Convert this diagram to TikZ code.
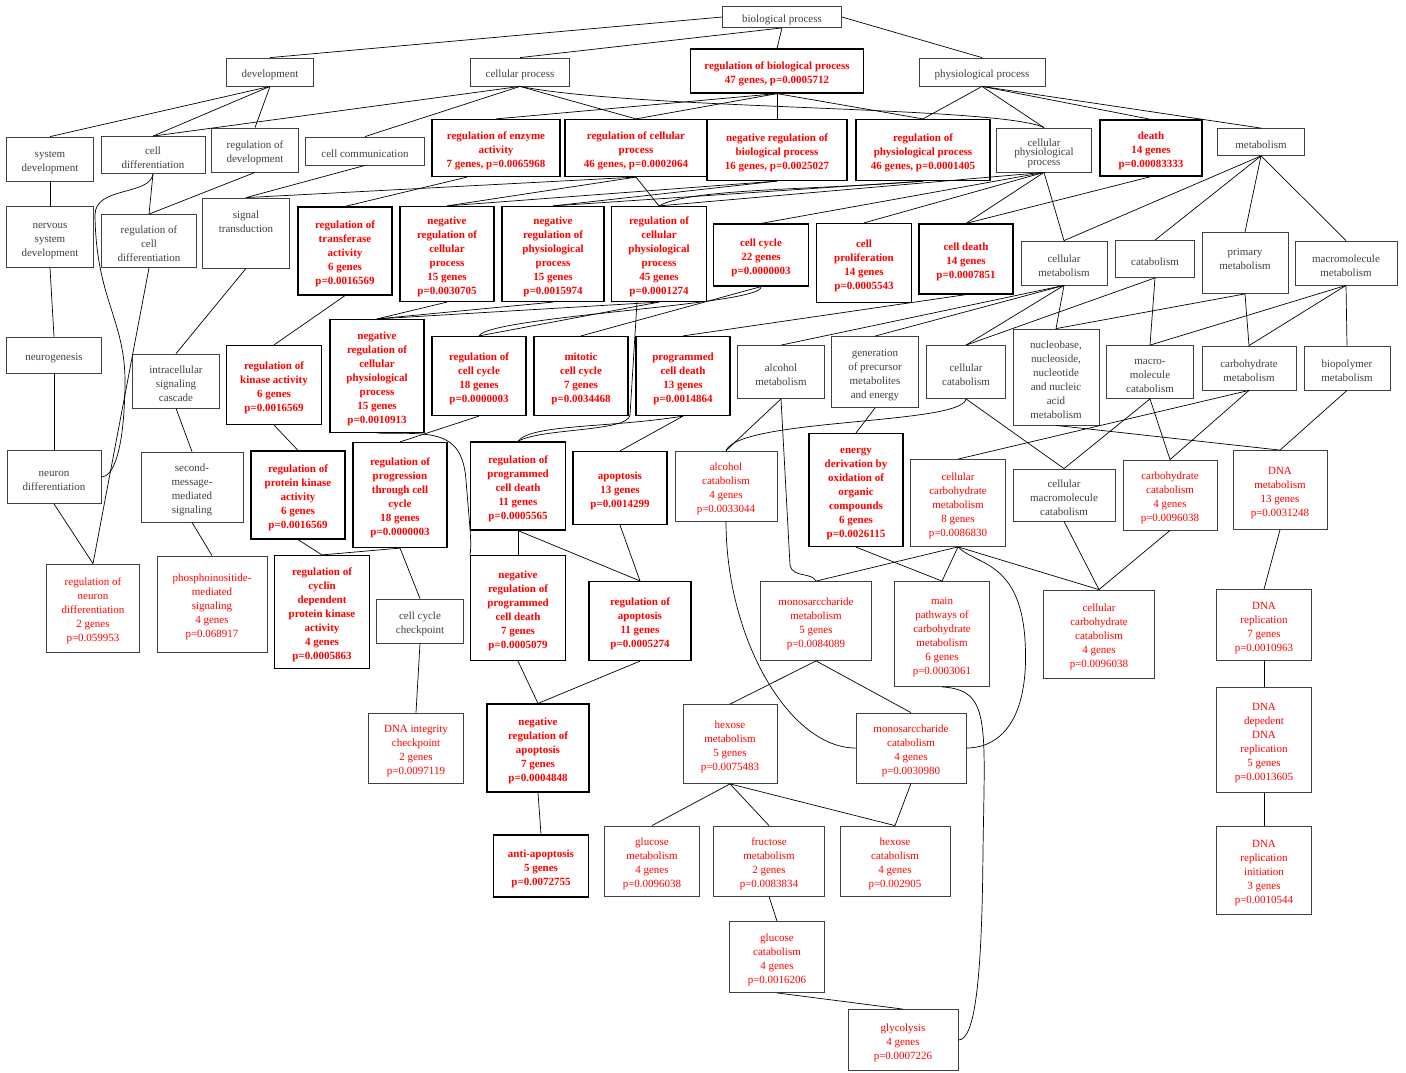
\documentclass[tikz,border=0pt]{standalone}
\usepackage{fontspec}
\setmainfont{Liberation Serif}
\definecolor{goGrey}{RGB}{64,64,64}
\definecolor{goRed}{RGB}{255,0,0}
\newcommand{\topgap}{\rule{0pt}{13.5pt}}

\begin{document}
\begin{tikzpicture}[x=1pt, y=-1pt,
    term/.style={draw=goGrey, line width=0.8pt, rectangle, inner sep=0pt, align=center, text=goGrey, font=\fontsize{11}{14}\selectfont},
    sig/.style={term, draw=black, line width=1.2pt, text=goRed, font=\fontsize{11}{14}\selectfont\bfseries},
    hit/.style={term, text=goRed},
    sz/.style 2 args={minimum width=#1, minimum height=#2},
    link/.style={draw=black, line width=0.7pt}]
    \useasboundingbox (0,0) rectangle (1406,1072);

    % Root and first level
    \node[term, sz={119pt}{21pt}] (bp) at (782,17) {\topgap biological process};
    \node[term, sz={87pt}{28pt}] (dev) at (270,72) {\topgap development};
    \node[term, sz={99pt}{28pt}] (cellproc) at (520,72) {\topgap cellular process};
    \node[sig, sz={173pt}{44pt}] (regbp) at (777,71) {\topgap regulation of biological process\\47 genes, p=0.0005712};
    \node[term, sz={126pt}{28pt}] (physproc) at (982,72) {\topgap physiological process};

    % Second level
    \node[term, sz={87pt}{44pt}] (sysdev) at (50,159) {\topgap system\\development};
    \node[term, sz={104pt}{37pt}] (celldiff) at (153,155) {\topgap cell\\differentiation};
    \node[term, sz={87pt}{44pt}] (regdev) at (255,150) {\topgap regulation of\\development};
    \node[term, sz={119pt}{28pt}] (cellcomm) at (365,151) {\topgap cell communication};
    \node[sig, sz={128pt}{57pt}] (regenz) at (496,148) {\topgap regulation of enzyme\\activity\\7 genes, p=0.0065968};
    \node[sig, sz={142pt}{57pt}] (regcp) at (636,148) {\topgap regulation of cellular\\process\\46 genes, p=0.0002064};
    \node[sig, sz={140pt}{61pt}] (negregbp) at (777,150) {\topgap negative regulation of\\biological process\\16 genes, p=0.0025027};
    \node[sig, sz={134pt}{61pt}] (regpp) at (923,150) {\topgap regulation of\\physiological process\\46 genes, p=0.0001405};
    \node[term, sz={95pt}{44pt}, font=\fontsize{11}{9.5}\selectfont] (cellphys) at (1044,150) {\topgap cellular\\physiological\\process};
    \node[sig, sz={102pt}{56pt}] (death) at (1151,148) {\topgap death\\14 genes\\p=0.00083333};
    \node[term, sz={87pt}{27pt}] (metab) at (1261,142) {\topgap metabolism};

    % Third level
    \node[term, sz={87pt}{61pt}] (nervdev) at (50,237) {\topgap nervous\\system\\development};
    \node[term, sz={95pt}{53pt}] (regcelldiff) at (149,241) {\topgap regulation of\\cell\\differentiation};
    \node[term, sz={87pt}{70pt}] (sigtrans) at (246,233) {\topgap signal\\transduction\\~\\~};
    \node[sig, sz={94pt}{88pt}] (regtrans) at (345,251) {\topgap regulation of\\transferase\\activity\\6 genes\\p=0.0016569};
    \node[sig, sz={94pt}{95pt}] (negregcp) at (447,254) {\topgap negative\\regulation of\\cellular\\process\\15 genes\\p=0.0030705};
    \node[sig, sz={102pt}{95pt}] (negregpp) at (553,254) {\topgap negative\\regulation of\\physiological\\process\\15 genes\\p=0.0015974};
    \node[sig, sz={95pt}{95pt}] (regcpp) at (659,254) {\topgap regulation of\\cellular\\physiological\\process\\45 genes\\p=0.0001274};
    \node[sig, sz={95pt}{62pt}] (cellcycle) at (761,255) {\topgap cell cycle\\22 genes\\p=0.0000003};
    \node[sig, sz={95pt}{79pt}] (cellprolif) at (864,263) {\topgap cell\\proliferation\\14 genes\\p=0.0005543};
    \node[sig, sz={94pt}{70pt}] (celldeath) at (966,259) {\topgap cell death\\14 genes\\p=0.0007851};
    \node[term, sz={86pt}{44pt}] (cellmetab) at (1064,263) {\topgap cellular\\metabolism};
    \node[term, sz={79pt}{37pt}] (catab) at (1155,259) {\topgap catabolism};
    \node[term, sz={86pt}{61pt}] (primmetab) at (1245,263) {\topgap primary\\metabolism\\~};
    \node[term, sz={102pt}{44pt}] (macromet) at (1346,263) {\topgap macromolecule\\metabolism};

    % Fourth level
    \node[term, sz={95pt}{36pt}] (neurogen) at (54,355) {\topgap neurogenesis};
    \node[term, sz={87pt}{54pt}] (intracell) at (176,381) {\topgap intracellular\\signaling\\cascade};
    \node[sig, sz={95pt}{79pt}] (regkin) at (274,385) {\topgap regulation of\\kinase activity\\6 genes\\p=0.0016569};
    \node[sig, sz={94pt}{113pt}] (negregcpp) at (377,376) {\topgap negative\\regulation of\\cellular\\physiological\\process\\15 genes\\p=0.0010913};
    \node[sig, sz={94pt}{79pt}] (regcc) at (479,376) {\topgap regulation of\\cell cycle\\18 genes\\p=0.0000003};
    \node[sig, sz={94pt}{79pt}] (mitotic) at (581,376) {\topgap mitotic\\cell cycle\\7 genes\\p=0.0034468};
    \node[sig, sz={94pt}{79pt}] (progcd) at (683,376) {\topgap programmed\\cell death\\13 genes\\p=0.0014864};
    \node[term, sz={87pt}{53pt}] (alcmet) at (781,372) {\topgap alcohol\\metabolism};
    \node[term, sz={87pt}{71pt}] (genprec) at (875,372) {\topgap generation\\of precursor\\metabolites\\and energy};
    \node[term, sz={79pt}{53pt}] (cellcatab) at (966,372) {\topgap cellular\\catabolism};
    \node[term, sz={86pt}{96pt}] (nucleo) at (1056,377) {\topgap nucleobase,\\nucleoside,\\nucleotide\\and nucleic\\acid\\metabolism};
    \node[term, sz={87pt}{53pt}] (macrocatab) at (1150,372) {\topgap macro-\\molecule\\catabolism};
    \node[term, sz={94pt}{44pt}] (carbmet) at (1249,368) {\topgap carbohydrate\\metabolism};
    \node[term, sz={86pt}{44pt}] (biopoly) at (1347,368) {\topgap biopolymer\\metabolism};

    % Fifth level
    \node[term, sz={94pt}{53pt}] (neurondiff) at (54,477) {\topgap neuron\\differentiation};
    \node[term, sz={102pt}{70pt}] (secmsg) at (192,487) {\topgap second-\\message-\\mediated\\signaling};
    \node[sig, sz={94pt}{88pt}] (regpk) at (298,495) {\topgap regulation of\\protein kinase\\activity\\6 genes\\p=0.0016569};
    \node[sig, sz={94pt}{105pt}] (regprog) at (400,495) {\topgap regulation of\\progression\\through cell\\cycle\\18 genes\\p=0.0000003};
    \node[sig, sz={95pt}{88pt}] (regpcd) at (518,486) {\topgap regulation of\\programmed\\cell death\\11 genes\\p=0.0005565};
    \node[sig, sz={94pt}{73pt}] (apoptosis) at (620,488) {\topgap apoptosis\\13 genes\\p=0.0014299};
    \node[hit, sz={102pt}{70pt}] (alccatab) at (726,486) {\topgap alcohol\\catabolism\\4 genes\\p=0.0033044};
    \node[sig, sz={94pt}{113pt}] (energy) at (856,490) {\topgap energy\\derivation by\\oxidation of\\organic\\compounds\\6 genes\\p=0.0026115};
    \node[hit, sz={95pt}{87pt}] (cellcarbmet) at (958,503) {\topgap cellular\\carbohydrate\\metabolism\\8 genes\\p=0.0086830};
    \node[term, sz={102pt}{52pt}] (cellmacrocat) at (1064,495) {\topgap cellular\\macromolecule\\catabolism};
    \node[hit, sz={94pt}{70pt}] (carbcatab) at (1170,495) {\topgap carbohydrate\\catabolism\\4 genes\\p=0.0096038};
    \node[hit, sz={94pt}{79pt}] (dnamet) at (1280,490) {\topgap DNA\\metabolism\\13 genes\\p=0.0031248};

    % Sixth level
    \node[hit, sz={93pt}{88pt}] (regneurdiff) at (93,608) {\topgap regulation of\\neuron\\differentiation\\2 genes\\p=0.059953};
    \node[hit, sz={110pt}{96pt}] (phospho) at (212,604) {\topgap phosphoinositide-\\mediated\\signaling\\4 genes\\p=0.068917};
    \node[sig, sz={95pt}{113pt}] (regcdk) at (322,612) {\topgap regulation of\\cyclin\\dependent\\protein kinase\\activity\\4 genes\\p=0.0005863};
    \node[term, sz={87pt}{44pt}] (ccchk) at (420,621) {\topgap cell cycle\\checkpoint};
    \node[sig, sz={95pt}{105pt}] (negregpcd) at (518,608) {\topgap negative\\regulation of\\programmed\\cell death\\7 genes\\p=0.0005079};
    \node[sig, sz={102pt}{79pt}] (regapop) at (640,621) {\topgap regulation of\\apoptosis\\11 genes\\p=0.0005274};
    \node[hit, sz={111pt}{79pt}] (monomet) at (816,621) {\topgap monosarccharide\\metabolism\\5 genes\\p=0.0084089};
    \node[hit, sz={95pt}{105pt}] (mainpath) at (942,634) {\topgap main\\pathways of\\carbohydrate\\metabolism\\6 genes\\p=0.0003061};
    \node[hit, sz={111pt}{88pt}] (cellcarbcat) at (1099,634) {\topgap cellular\\carbohydrate\\catabolism\\4 genes\\p=0.0096038};
    \node[hit, sz={95pt}{71pt}] (dnarep) at (1264,625) {\topgap DNA\\replication\\7 genes\\p=0.0010963};

    % Seventh level
    \node[hit, sz={95pt}{70pt}] (dnaint) at (416,748) {\topgap DNA integrity\\checkpoint\\2 genes\\p=0.0097119};
    \node[sig, sz={102pt}{88pt}] (negapop) at (538,748) {\topgap negative\\regulation of\\apoptosis\\7 genes\\p=0.0004848};
    \node[hit, sz={94pt}{79pt}] (hexmet) at (730,744) {\topgap hexose\\metabolism\\5 genes\\p=0.0075483};
    \node[hit, sz={110pt}{70pt}] (monocat) at (911,748) {\topgap monosarccharide\\catabolism\\4 genes\\p=0.0030980};
    \node[hit, sz={95pt}{105pt}] (dnadep) at (1264,740) {\topgap DNA\\depedent\\DNA\\replication\\5 genes\\p=0.0013605};

    % Eighth level and below
    \node[sig, sz={95pt}{62pt}] (antiapop) at (541,866) {\topgap anti-apoptosis\\5 genes\\p=0.0072755};
    \node[hit, sz={95pt}{70pt}] (glucmet) at (652,861) {\topgap glucose\\metabolism\\4 genes\\p=0.0096038};
    \node[hit, sz={111pt}{70pt}] (fructmet) at (769,861) {\topgap fructose\\metabolism\\2 genes\\p=0.0083834};
    \node[hit, sz={110pt}{70pt}] (hexcat) at (895,861) {\topgap hexose\\catabolism\\4 genes\\p=0.002905};
    \node[hit, sz={95pt}{88pt}] (dnainit) at (1264,870) {\topgap DNA\\replication\\initiation\\3 genes\\p=0.0010544};
    \node[hit, sz={95pt}{71pt}] (glucat) at (777,957) {\topgap glucose\\catabolism\\4 genes\\p=0.0016206};
    \node[hit, sz={110pt}{61pt}] (glycol) at (903,1040) {\topgap glycolysis\\4 genes\\p=0.0007226};

    % Edges from the top
    \draw[link] (bp.west) -- (dev.north);
    \draw[link] (bp.south) -- (cellproc.north);
    \draw[link] (bp.south) -- (regbp.north);
    \draw[link] (bp.east) -- (physproc.north);
    \draw[link] (dev.south) -- (sysdev.north);
    \draw[link] (dev.south) -- (celldiff.north);
    \draw[link] (dev.south) -- (regdev.north);
    \draw[link] (cellproc.south) -- (celldiff.north);
    \draw[link] (cellproc.south) -- (cellcomm.north);
    \draw[link] (cellproc.south) -- (regcp.north);
    \draw[link] (cellproc.south) .. controls (640,110) and (1000,106) .. (cellphys.north);
    \draw[link] (regbp.south) -- (regenz.north);
    \draw[link] (regbp.south) -- (regcp.north);
    \draw[link] (regbp.south) -- (negregbp.north);
    \draw[link] (regbp.south) -- (regpp.north);
    \draw[link] (physproc.south) -- (regpp.north);
    \draw[link] (physproc.south) -- (cellphys.north);
    \draw[link] (physproc.south) -- (death.north);
    \draw[link] (physproc.south) -- (metab.north);

    % Edges into the third level
    \draw[link] (sysdev.south) -- (nervdev.north);
    \draw[link] (celldiff.south) -- (regcelldiff.north);
    \draw[link] (regdev.south) -- (regcelldiff.north);
    \draw[link] (cellcomm.south) -- (sigtrans.north);
    \draw[link] (regcp.south) -- (sigtrans.north);
    \draw[link] ([xshift=-29pt]regenz.south) -- (regtrans.north);
    \draw[link] (regcp.south) -- (negregcp.north);
    \draw[link] (negregbp.south) -- (negregcp.north);
    \draw[link] (negregbp.south) -- (negregpp.north);
    \draw[link] (regpp.south) -- (negregpp.north);
    \draw[link] (regcp.south) -- (regcpp.north);
    \draw[link] (regpp.south) .. controls (820,190) and (690,188) .. (regcpp.north);
    \draw[link] (cellphys.south) -- (regcpp.north);
    \draw[link] (cellphys.south) -- (cellcycle.north);
    \draw[link] (cellphys.south) -- (cellprolif.north);
    \draw[link] (cellphys.south) -- (celldeath.north);
    \draw[link] (death.south) -- (celldeath.north);
    \draw[link] (cellphys.south) -- (cellmetab.north);
    \draw[link] (metab.south) -- (cellmetab.north);
    \draw[link] (metab.south) -- (catab.north);
    \draw[link] (metab.south) -- (primmetab.north);
    \draw[link] (metab.south) -- (macromet.north);

    % Edges into the fourth level
    \draw[link] (nervdev.south) -- (neurogen.north);
    \draw[link] (sigtrans.south) -- (intracell.north);
    \draw[link] (regtrans.south) -- (regkin.north);
    \draw[link] (negregcp.south) -- (negregcpp.north);
    \draw[link] (negregpp.south) -- (negregcpp.north);
    \draw[link] (regcpp.south) -- (negregcpp.north);
    \draw[link] (regcpp.south) -- (regcc.north);
    \draw[link] (cellcycle.south) .. controls (765,305) and (490,316) .. (regcc.north);
    \draw[link] (cellcycle.south) -- (mitotic.north);
    \draw[link] (celldeath.south) -- (progcd.north);
    \draw[link] (cellmetab.south) -- (alcmet.north);
    \draw[link] (cellmetab.south) -- (genprec.north);
    \draw[link] (cellmetab.south) -- (cellcatab.north);
    \draw[link] (catab.south) -- (cellcatab.north);
    \draw[link] (cellmetab.south) -- (nucleo.north);
    \draw[link] (primmetab.south) -- (nucleo.north);
    \draw[link] (catab.south) -- (macrocatab.north);
    \draw[link] (macromet.south) -- (macrocatab.north);
    \draw[link] (primmetab.south) -- (carbmet.north);
    \draw[link] (macromet.south) -- (carbmet.north);
    \draw[link] (macromet.south) -- (biopoly.north);

    % Edges into the fifth level
    \draw[link] (neurogen.south) -- (neurondiff.north);
    \draw[link] (celldiff.south) .. controls (150,196) and (95,186) .. (95,215)
        .. controls (96,300) and (126,320) .. (125,385) .. controls (124,455) and (112,477) .. (neurondiff.east);
    \draw[link] (intracell.south) -- (secmsg.north);
    \draw[link] (regkin.south) -- (regpk.north);
    \draw[link] (regcc.south) -- (regprog.north);
    \draw[link] ([xshift=-22pt]regcpp.south) -- (630,415) .. controls (628,432) and (540,428) .. (regpcd.north);
    \draw[link] (progcd.south) .. controls (610,428) and (530,424) .. (regpcd.north);
    \draw[link] (progcd.south) -- (apoptosis.north);
    \draw[link] (alcmet.south) -- (alccatab.north);
    \draw[link] (cellcatab.south) .. controls (962,425) and (740,418) .. (alccatab.north);
    \draw[link] (genprec.south) -- (energy.north);
    \draw[link] (carbmet.south) -- (cellcarbmet.north);
    \draw[link] (cellcatab.south) -- (cellmacrocat.north);
    \draw[link] (macrocatab.south) -- (cellmacrocat.north);
    \draw[link] (macrocatab.south) -- (carbcatab.north);
    \draw[link] (carbmet.south) -- (carbcatab.north);
    \draw[link] (nucleo.south) -- (dnamet.north);
    \draw[link] (biopoly.south) -- (dnamet.north);

    % Edges into the sixth level
    \draw[link] (neurondiff.south) -- (regneurdiff.north);
    \draw[link] (regcelldiff.south) -- (regneurdiff.north);
    \draw[link] (secmsg.south) -- (phospho.north);
    \draw[link] (regpk.south) -- (regcdk.north);
    \draw[link] (regprog.south) -- (regcdk.north);
    \draw[link] (regprog.south) -- (ccchk.north);
    \draw[link] (regpcd.south) -- (negregpcd.north);
    \draw[link] (negregcpp.south) .. controls (430,434) and (462,428) .. (466,480)
        .. controls (470,530) and (472,545) .. (negregpcd.north west);
    \draw[link] (regpcd.south) -- (regapop.north);
    \draw[link] (apoptosis.south) -- (regapop.north);
    \draw[link] (alcmet.south) -- (790,565) .. controls (792,578) and (812,572) .. (monomet.north);
    \draw[link] (cellcarbmet.south) -- (monomet.north);
    \draw[link] (cellcarbmet.south) -- (mainpath.north);
    \draw[link] (energy.south) -- (mainpath.north);
    \draw[link] (cellcarbmet.south) -- (cellcarbcat.north);
    \draw[link] (cellmacrocat.south) -- (cellcarbcat.north);
    \draw[link] (carbcatab.south) -- (cellcarbcat.north);
    \draw[link] (dnamet.south) -- (dnarep.north);

    % Edges into the lower levels
    \draw[link] (ccchk.south) -- (dnaint.north);
    \draw[link] (negregpcd.south) -- (negapop.north);
    \draw[link] (regapop.south) -- (negapop.north);
    \draw[link] (monomet.south) -- (hexmet.north);
    \draw[link] (monomet.south) -- (monocat.north);
    \draw[link] (alccatab.south) .. controls (726,640) and (790,748) .. (monocat.west);
    \draw[link] (cellcarbmet.south) .. controls (975,565) and (1020,560) .. (1025,640)
        .. controls (1030,720) and (1000,748) .. (monocat.east);
    \draw[link] (dnarep.south) -- (dnadep.north);
    \draw[link] (negapop.south) -- (antiapop.north);
    \draw[link] (hexmet.south) -- (glucmet.north);
    \draw[link] (hexmet.south) -- (fructmet.north);
    \draw[link] (hexmet.south) -- (hexcat.north);
    \draw[link] (monocat.south) -- (hexcat.north);
    \draw[link] (dnadep.south) -- (dnainit.north);
    \draw[link] (fructmet.south) -- (glucat.north);
    \draw[link] (glucat.south) -- (glycol.north);
    \draw[link] (mainpath.south) .. controls (990,690) and (985,720) .. (983,850)
        .. controls (982,980) and (975,1040) .. (glycol.east);

\end{tikzpicture}
\end{document}
